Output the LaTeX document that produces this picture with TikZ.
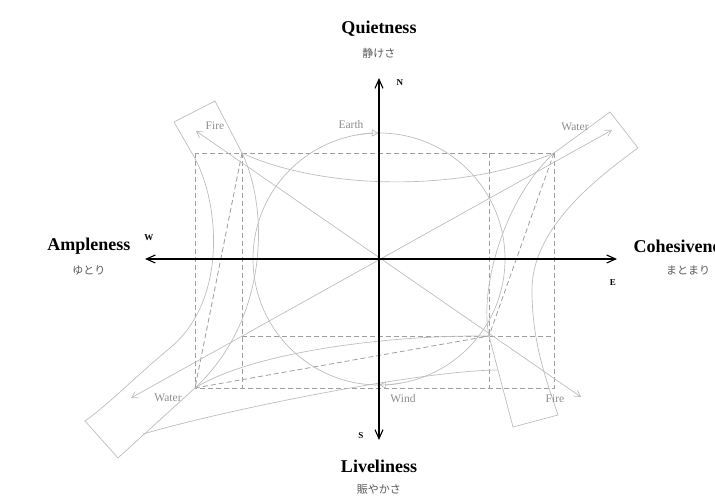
\documentclass[tikz,border=0pt]{standalone}
\usepackage{fontspec}
\setmainfont{Liberation Serif}
\newfontfamily\jp{Noto Sans CJK JP}
\usetikzlibrary{calc,positioning,arrows.meta}
\definecolor{gLine}{gray}{0.74}
\definecolor{gDash}{gray}{0.62}
\definecolor{gText}{gray}{0.55}
\definecolor{jText}{gray}{0.35}
\begin{document}
\begin{tikzpicture}[x=1pt,y=1pt,
	ax/.style={line width=1.1pt,-{Straight Barb[length=9pt,width=8pt]}},
	gl/.style={draw=gLine,line width=0.7pt},
	dl/.style={draw=gDash,line width=0.8pt,dash pattern=on 5pt off 3pt},
	gar/.style={gl,{Straight Barb[length=6pt,width=7pt]}-{Straight Barb[length=6pt,width=7pt]}},
	tri/.style={gl,-{Triangle[open,length=7pt,width=7pt]}},
	big/.style={font=\bfseries\fontsize{18}{20}\selectfont},
	jlab/.style={font=\jp\fontsize{11}{12}\selectfont,text=jText},
	dir/.style={font=\bfseries\fontsize{9}{10}\selectfont},
	el/.style={font=\fontsize{11.5}{12}\selectfont,text=gText}]
	\useasboundingbox (-379,-238) rectangle (336,259);
	\coordinate (O) at (0,0);
	\coordinate (n) at (0,181);
	\coordinate (s) at (0,-181);
	\coordinate (w) at (-234,0);
	\coordinate (e) at (238,0);
	
	\coordinate (a1) at (-184,106);
	\coordinate (a2) at (175,106);
	\coordinate (a3) at (175,-129);
	\coordinate (a4) at (-184,-129);
	\coordinate (b1) at (-137,106);
	\coordinate (b2) at (-137,-129);
	\coordinate (b3) at (110,106);
	\coordinate (b4) at (110,-129);
	\coordinate (c1) at (-137,-77);
	\coordinate (c2) at (110,-77);
	\coordinate (c3) at (175,-77);
	
	\coordinate (p1) at (-205,137);
	\coordinate (p2) at (-164,158);
	\coordinate (r1) at (231,147);
	\coordinate (r2) at (259,111);
	\coordinate (m1) at (134,-168);
	\coordinate (m2) at (179,-156);
	\coordinate (k1) at (-294,-162);
	\coordinate (k2) at (-261,-199);
	\coordinate (u1) at (-236,-175);
	\coordinate (u2) at (118,-111);
	
	\coordinate (w1) at (-248,-139);
	\coordinate (w2) at (233,129);
	\coordinate (f1) at (-183,128);
	\coordinate (f2) at (202,-138);
	
	\draw[dl] (a1) rectangle (a3);
	\draw[dl] (b1) -- (b2) (b3) -- (b4) (c1) -- (c3);
	\draw[dl] (b1) -- (a4) (a2) -- (c2) (a4) -- (c2);
	
	\draw[gl] (O) circle (126);
	\draw[tri] (100:126) arc (100:90:126);
	\draw[tri] (280:126) arc (280:270:126);
	
	\draw[gl] (p1) -- (p2) -- (b1) .. controls (-110,50) and (-110,-60) .. (a4) -- (k2);
	\draw[gl] (p1) -- (-186,104) .. controls (-160,60) and (-150,-40) .. (-209,-89)
		.. controls (-244,-118) and (-270,-145) .. (k1) -- (k2);
	\draw[gl] (a2) -- (r1) -- (r2) .. controls (215,79) and (153,30) .. (153,-31)
		.. controls (153,-80) and (165,-115) .. (m2) -- (m1) -- (c2);
	\draw[gl] (a2) .. controls (125,60) and (100,-30) .. (c2);
	\draw[gl] (b1) .. controls (-60,70) and (80,65) .. (a2);
	\draw[gl] (a4) .. controls (-130,-95) and (0,-76) .. (c2);
	\draw[gl] (u1) .. controls (-150,-150) and (40,-112) .. (u2);
	
	\draw[gar] (w1) -- (w2);
	\draw[gar] (f1) -- (f2);
	
	\draw[ax] (O) -- (n);
	\draw[ax] (O) -- (s);
	\draw[ax] (O) -- (w);
	\draw[ax] (O) -- (e);
	
	\node[el] (lfire1) at (-164,133) {Fire};
	\node[el] (learth) at (-28,134) {Earth};
	\node[el] (lwater1) at (196,132) {Water};
	\node[el] (lwater2) at (-211,-139) {Water};
	\node[el] (lwind) at (24,-140) {Wind};
	\node[el] (lfire2) at (176,-140) {Fire};
	
	\node[dir] (dn) at (21,176) {N};
	\node[dir] (dw) at (-230,21) {W};
	\node[dir] (de) at (234,-24) {E};
	\node[dir] (ds) at (-18,-177) {S};
	
	\node[big] (tq) at (0,230) {Quietness};
	\node[jlab] (jq) at (0,206) {静けさ};
	\node[big] (ta) at (-290,13) {Ampleness};
	\node[jlab] (ja) at (-290,-11) {ゆとり};
	\node[big,anchor=west] (tc) at (251,13) {Cohesiveness};
	\node[jlab] (jc) at (309,-11) {まとまり};
	\node[big] (tl) at (0,-207) {Liveliness};
	\node[jlab] (jl) at (0,-231) {賑やかさ};
\end{tikzpicture}
\end{document}
